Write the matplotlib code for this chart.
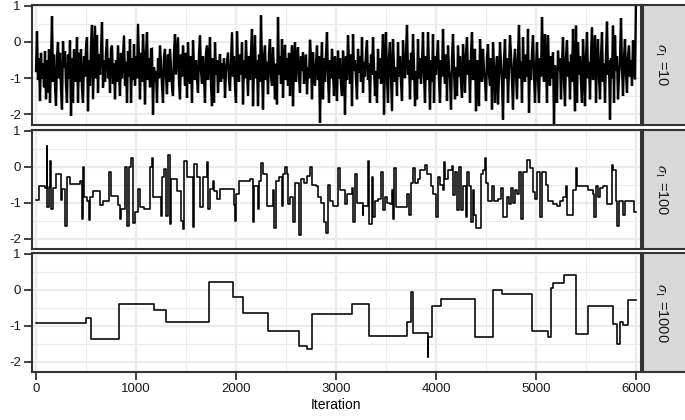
import matplotlib
matplotlib.use("Agg")
import matplotlib.pyplot as plt
import numpy as np

plt.rcParams["font.family"] = ["Liberation Sans", "DejaVu Sans"]
plt.rcParams["mathtext.fontset"] = "stix"
plt.rcParams["axes.unicode_minus"] = False

# sigma_1 = 10: trace sampled every 10 iterations (0 .. 6000)
trace_sigma10 = [
    -0.80, 0.29, -1.05, -0.45, -1.63, -0.30, -1.00, -0.60, -1.25, -0.25, -1.58, -0.50, -1.40, -0.20, -1.68, -0.55, 0.71, -1.10, -0.35, -1.20,
    -1.76, -0.40, 0.00, -1.00, -0.30, -1.30, -1.86, 0.02, -0.70, -0.25, -1.20, -1.68, -0.35, -1.00, 0.04, -2.04, -0.45, -1.68, -0.20, -1.10,
    -0.90, 0.13, -1.68, -0.30, -1.10, -0.20, -1.30, -1.68, -0.40, -0.95, -0.15, 0.13, -1.91, -0.50, -1.20, -0.10, 0.47, -1.58, -0.60, 0.45,
    -1.00, 0.18, -1.40, -0.35, -0.90, -0.25, 0.55, -1.26, -0.50, -1.10, -0.30, 0.08, -1.00, -0.45, -1.40, -0.20, -0.10, -1.15, -0.60, -1.58,
    -0.50, -1.10, -0.10, -0.90, -1.49, -0.30, -1.00, -0.40, 0.18, -1.20, -0.55, -1.68, -0.25, -0.95, 0.08, -1.68, -0.45, -1.05, -0.06, -1.20,
    -0.40, -1.00, 0.50, -0.60, -1.58, -0.30, -1.10, 0.22, -0.50, -1.72, -0.35, 0.27, -1.05, -0.45, -1.25, -0.20, -0.19, -2.00, -0.70, -1.10,
    -0.80, -1.68, -0.45, -1.00, -0.10, -0.60, -1.20, -1.68, -0.40, -0.19, -0.95, -1.44, -0.35, -1.10, -0.19, -0.70, -1.25, -1.49, -0.30, 0.22,
    -0.90, -0.40, 0.13, -1.10, -1.58, -0.35, -0.95, -0.10, -0.60, -1.20, -0.30, -1.54, -0.01, -0.80, -1.15, -0.40, -1.68, 0.04, -0.70, -1.05,
    -0.50, -1.00, -1.40, -0.35, 0.18, -0.80, -1.15, -0.40, -0.95, -1.68, -0.30, -0.10, -1.05, -0.55, 0.13, -1.20, -1.77, -0.45, -1.68, -0.01,
    -0.90, -0.50, -1.40, -0.70, -0.33, -1.10, -0.60, -1.00, -0.45, -1.54, -0.80, -0.55, -0.29, -1.05, -1.35, -0.50, 0.27, -0.95, -0.40, -1.20,
    -1.68, 0.29, -0.60, -1.10, -0.35, -0.90, -0.01, -1.72, -0.50, -1.00, 0.04, -0.75, -1.49, -0.40, -1.05, -0.30, 0.36, -1.77, -0.70, 0.18,
    -1.00, -0.50, -1.77, -0.35, -1.10, 0.73, -0.65, -1.86, -0.40, -0.10, -1.05, -0.55, -1.44, -0.30, 0.08, -0.95, -1.20, -0.15, -0.80, -1.58,
    -0.60, -1.72, 0.69, -0.90, -0.40, -1.15, 0.08, -1.54, -0.55, -0.08, -1.05, -0.45, -1.20, -0.30, -1.49, -0.70, -0.10, -1.77, -0.50, -0.01,
    -1.10, -0.50, -0.15, -0.95, -1.40, -0.40, -0.80, -0.29, -1.15, -0.60, -0.35, -1.44, -0.70, -1.00, 0.06, -0.45, -1.58, -0.29, -0.90, -1.20,
    -0.60, -0.10, -1.05, -0.40, -2.23, -0.70, -0.01, -1.58, -0.45, -1.10, -0.35, 0.27, -0.95, -1.68, -0.50, -1.00, -0.19, -0.80, -1.49, -0.40,
    -0.90, -1.63, -0.24, -1.00, -0.45, -1.20, -1.49, -0.24, -0.70, -2.00, -0.40, -1.05, 0.18, -0.55, -1.15, -0.35, -1.77, 0.22, -0.80, -0.50,
    -1.00, -1.58, -0.19, -0.85, -0.40, -1.10, 0.13, -1.40, -0.55, -0.95, -0.30, 0.04, -1.05, -0.60, -1.68, -0.35, -0.90, 0.13, -0.70, -1.49,
    -0.80, -1.68, -0.19, -1.00, -0.45, -1.15, -0.60, 0.22, -2.00, -0.50, 0.27, -1.05, -1.68, -0.40, -0.01, -0.95, -1.91, 0.08, -0.70, -1.10,
    -0.70, -1.49, -0.01, -0.95, -0.40, -1.10, -1.63, 0.04, -0.60, -1.00, -0.35, 0.47, -0.90, -0.50, -1.58, -0.30, -1.05, 0.22, -0.65, -1.77,
    -0.80, -1.58, 0.08, -1.00, -0.45, -1.15, -0.60, 0.27, -0.90, -1.68, -0.40, -1.05, 0.27, -0.70, -1.86, -0.50, -1.10, 0.22, -1.68, -0.40,
    -0.90, -0.40, 0.04, -1.05, -1.68, -0.50, -0.95, 0.36, -0.70, -1.15, -0.35, -1.63, -0.10, -0.80, -1.00, -1.86, -0.45, 0.22, -0.75, -1.58,
    -0.70, -1.49, -0.10, -0.95, -0.40, -1.10, -1.54, -0.06, -0.60, -1.40, -0.35, 0.13, -0.90, -0.50, -1.68, -0.30, 0.27, -1.05, -0.65, -0.19,
    -1.91, -0.50, -0.95, -1.77, 0.08, -0.60, -1.10, -0.19, -0.80, -1.05, -1.63, -0.40, -0.06, -0.90, -1.20, -0.45, -1.86, -0.01, -0.70, -1.68,
    -0.80, -0.40, -1.72, -0.95, -0.01, -0.60, -1.10, -2.14, -0.50, 0.08, -1.00, -0.45, -1.68, -0.70, 0.18, -0.35, -1.05, -1.86, -0.60, -0.19,
    -0.90, -1.58, -0.40, 0.47, -1.00, -0.55, -1.68, 0.13, -0.80, -1.10, -0.35, -0.95, 0.36, -1.95, -0.50, -1.05, -0.30, 0.18, -0.85, -1.68,
    -0.70, -0.01, -1.00, -1.68, -0.45, -0.95, 0.69, -0.60, -1.10, 0.22, -0.50, -1.68, 0.18, -0.80, -1.20, -0.40, -1.00, -0.29, -2.28, -0.65,
    -1.00, -1.68, -0.24, -0.80, -0.45, -1.58, -0.60, 0.13, -1.05, -1.77, -0.40, 0.04, -0.95, -0.55, -1.58, -0.35, -1.10, 0.36, -0.70, -1.91,
    0.45, -1.68, -0.01, -0.90, -0.40, -1.10, -1.68, 0.08, -0.60, -1.77, -0.45, 0.27, -1.00, -0.55, -1.58, -0.35, 0.40, -1.05, -0.70, 0.18,
    -1.68, -0.50, 0.08, -0.95, -1.58, -0.40, 0.27, -1.10, -0.60, -1.68, -0.35, 0.56, -0.90, -0.50, -2.14, -0.45, -1.00, 0.45, -1.68, 0.18,
    -0.80, -0.40, -1.58, -0.95, -0.50, 0.65, -0.70, -1.49, -0.45, 0.08, -0.90, -1.40, -0.40, -0.10, -0.95, -0.50, -1.21, 0.04, -0.60, -1.03,
    1.20,
]
trace_sigma10_iter = np.linspace(0, 6000, len(trace_sigma10))

# sigma_1 = 100: step trace, (iteration where value changes, new value)
jumps_sigma100_iter = [
    0, 33, 90, 107, 113, 127, 140, 150, 167, 200, 250, 263, 290, 313, 340, 440, 460, 473, 483, 507,
    533, 543, 573, 640, 667, 733, 747, 823, 837, 847, 893, 913, 930, 947, 973, 987, 1023, 1040, 1080, 1140,
    1157, 1173, 1250, 1263, 1283, 1297, 1317, 1340, 1350, 1407, 1447, 1467, 1483, 1507, 1567, 1583, 1607, 1640, 1673, 1707,
    1723, 1740, 1767, 1783, 1807, 1840, 1975, 1990, 2000, 2033, 2140, 2167, 2180, 2223, 2233, 2247, 2273, 2307, 2367, 2380,
    2400, 2433, 2457, 2473, 2490, 2507, 2523, 2540, 2567, 2590, 2633, 2650, 2680, 2713, 2740, 2757, 2800, 2823, 2847, 2880,
    2900, 2923, 2940, 2973, 3023, 3040, 3090, 3107, 3157, 3173, 3190, 3207, 3267, 3273, 3323, 3333, 3357, 3373, 3390, 3423,
    3447, 3467, 3490, 3513, 3540, 3557, 3573, 3583, 3600, 3713, 3733, 3747, 3773, 3793, 3823, 3840, 3893, 3907, 3950, 3967,
    4000, 4023, 4040, 4067, 4080, 4090, 4123, 4157, 4173, 4190, 4213, 4233, 4247, 4273, 4300, 4313, 4333, 4347, 4367, 4380,
    4400, 4447, 4473, 4490, 4500, 4523, 4557, 4580, 4623, 4647, 4673, 4713, 4733, 4747, 4767, 4790, 4813, 4833, 4847, 4867,
    4907, 4940, 4967, 4990, 5013, 5040, 5063, 5100, 5123, 5173, 5207, 5240, 5273, 5300, 5313, 5367, 5397, 5407, 5523, 5567,
    5583, 5597, 5617, 5640, 5667, 5707, 5757, 5773, 5800, 5813, 5830, 5873, 5890, 5980,
]
jumps_sigma100_value = [
    -0.93, -0.53, -0.60, 0.58, -1.13, -0.57, 0.15, -1.18, -0.59, -0.20, -0.93, -0.62, -1.64, -0.28, -0.48, -0.39, -1.45, 0.00, -0.85, -0.96,
    -1.48, -0.85, -0.67, -1.08, -0.96, -0.14, -0.81, -1.08, -1.45, -1.18, 0.00, -1.64, 0.00, 0.24, -1.57, -1.27, -0.62, -1.11, -1.18, 0.00,
    0.24, -0.83, -1.36, -0.30, -0.06, -1.36, 0.33, -1.60, -0.34, -0.67, -1.50, -1.73, 0.17, -0.30, -1.69, 0.07, -0.30, -1.13, -0.30, 0.14,
    -1.18, -0.62, -0.39, -0.67, -0.90, -0.62, -1.06, -1.50, -0.75, -0.40, -0.35, -1.55, -0.55, -1.18, -0.40, 0.10, -0.20, -1.10, -0.65, -1.70,
    -0.40, -0.30, -1.10, -0.20, 0.00, -0.20, -1.05, -0.85, -1.55, -0.45, -1.90, -0.35, -0.45, -0.25, 0.00, -0.50, -0.55, -0.85, -1.00, -1.55,
    -1.85, -0.50, -0.95, -1.10, -0.05, -0.65, -1.05, -0.75, -0.60, -1.55, -0.20, -1.00, -1.35, -1.10, 0.15, -1.60, -0.30, -1.40, -0.95, -0.90,
    -0.15, -1.20, -0.85, -1.00, -1.05, -0.65, -1.45, -0.05, -1.12, -0.75, -1.35, -0.45, -0.05, -0.45, -0.35, -0.10, 0.05, -0.20, -0.55, -0.75,
    -1.40, -0.30, -0.50, -0.65, 0.14, -0.35, -0.10, 0.03, -0.80, -0.15, -1.20, 0.00, -1.20, -0.55, -1.40, -0.15, -0.55, -1.55, -0.65, -1.35,
    -1.70, -0.20, -0.10, 0.23, -0.45, -0.95, -0.55, -0.95, -0.90, -0.60, -1.40, -0.85, -1.05, -0.60, -1.00, -0.65, -0.75, -0.15, -1.45, -0.15,
    0.18, -0.05, -0.70, -0.90, -0.15, -1.40, -0.15, -0.50, -0.95, -1.05, -1.10, -0.95, -0.85, -0.55, -1.35, -0.65, -0.05, -0.55, -0.65, -0.75,
    -1.40, -0.55, -0.85, -0.60, -0.55, -1.05, 0.05, -0.10, -0.95, -1.65, -0.95, -1.35, -0.95, -1.25,
]

# sigma_1 = 1000: step trace
jumps_sigma1000_iter = [
    0, 497, 547, 833, 1180, 1297, 1733, 1967, 2073, 2317, 2633, 2713, 2757, 3163, 3330, 3707, 3747, 3773, 3917, 3923,
    3957, 4050, 4387, 4573, 4657, 4957, 5123, 5147, 5173, 5280, 5397, 5523, 5773, 5807, 5840, 5873, 5923,
]
jumps_sigma1000_value = [
    -0.93, -0.80, -1.38, -0.40, -0.56, -0.91, 0.21, -0.21, -0.65, -1.14, -1.56, -1.64, -0.67, -0.40, -1.28, -0.90, -0.07, -1.20, -1.88, -1.31,
    -0.46, -0.25, -1.31, -0.02, -0.11, -1.14, -1.32, 0.05, 0.19, 0.40, -1.23, -0.46, -0.95, -1.51, -0.91, -0.97, -0.28,
]
last_iteration = 6000

strip_labels = [r"$\sigma_1$ =10", r"$\sigma_1$ =100", r"$\sigma_1$ =1000"]
x_ticks = [0, 1000, 2000, 3000, 4000, 5000, 6000]
y_ticks = [-2, -1, 0, 1]

W, H = 685, 420
BORDER = "#333333"
GRID = "#EBEBEB"

fig = plt.figure(figsize=(W / 100, H / 100), dpi=100)

# panel pixel boxes: (top, bottom)
panel_rows = [(5, 125), (130, 249), (253, 372)]
left_px, right_px = 32, 641
strip_left, strip_right = 643, 685


def style_panel(ax, show_x):
    ax.set_xlim(-40, 6050)
    ax.set_ylim(-2.29, 1.02)
    ax.set_xticks(x_ticks)
    ax.set_xticks([500, 1500, 2500, 3500, 4500, 5500], minor=True)
    ax.set_yticks(y_ticks)
    ax.set_yticks([-1.5, -0.5, 0.5], minor=True)
    ax.set_axisbelow(True)
    ax.grid(which="major", color=GRID, linewidth=1.6)
    ax.grid(which="minor", color=GRID, linewidth=0.8)
    for sp in ax.spines.values():
        sp.set_color(BORDER)
        sp.set_linewidth(1.5)
    ax.tick_params(which="major", length=5.5, width=1.3, color=BORDER,
                   labelsize=9.5, labelcolor="#1a1a1a", pad=2.5)
    ax.tick_params(which="minor", length=0)
    if not show_x:
        ax.tick_params(axis="x", which="both", length=0, labelbottom=False)


axes = []
for i, (top, bottom) in enumerate(panel_rows):
    rect = [left_px / W, 1 - bottom / H, (right_px - left_px) / W, (bottom - top) / H]
    ax = fig.add_axes(rect)
    style_panel(ax, show_x=(i == 2))
    axes.append(ax)

    srect = [strip_left / W, 1 - bottom / H, (strip_right - strip_left + 2) / W, (bottom - top) / H]
    sax = fig.add_axes(srect)
    sax.set_facecolor("#D9D9D9")
    sax.set_xticks([])
    sax.set_yticks([])
    for sp in sax.spines.values():
        sp.set_color(BORDER)
        sp.set_linewidth(1.5)
    sax.text(0.42, 0.5, strip_labels[i], rotation=270, ha="center", va="center",
             fontsize=10.5, color="#1a1a1a", transform=sax.transAxes)

# dense trace: a slightly heavier stroke so the band reads as solid
axes[0].plot(trace_sigma10_iter, trace_sigma10, color="black", linewidth=1.7,
             solid_joinstyle="miter")

for ax, xs, ys in [
    (axes[1], jumps_sigma100_iter, jumps_sigma100_value),
    (axes[2], jumps_sigma1000_iter, jumps_sigma1000_value),
]:
    ax.step(list(xs) + [last_iteration], list(ys) + [ys[-1]], where="post",
            color="black", linewidth=1.15)

axes[2].set_xlabel("Iteration", fontsize=10, color="black", labelpad=2)

fig.savefig("out.png", dpi=100)
